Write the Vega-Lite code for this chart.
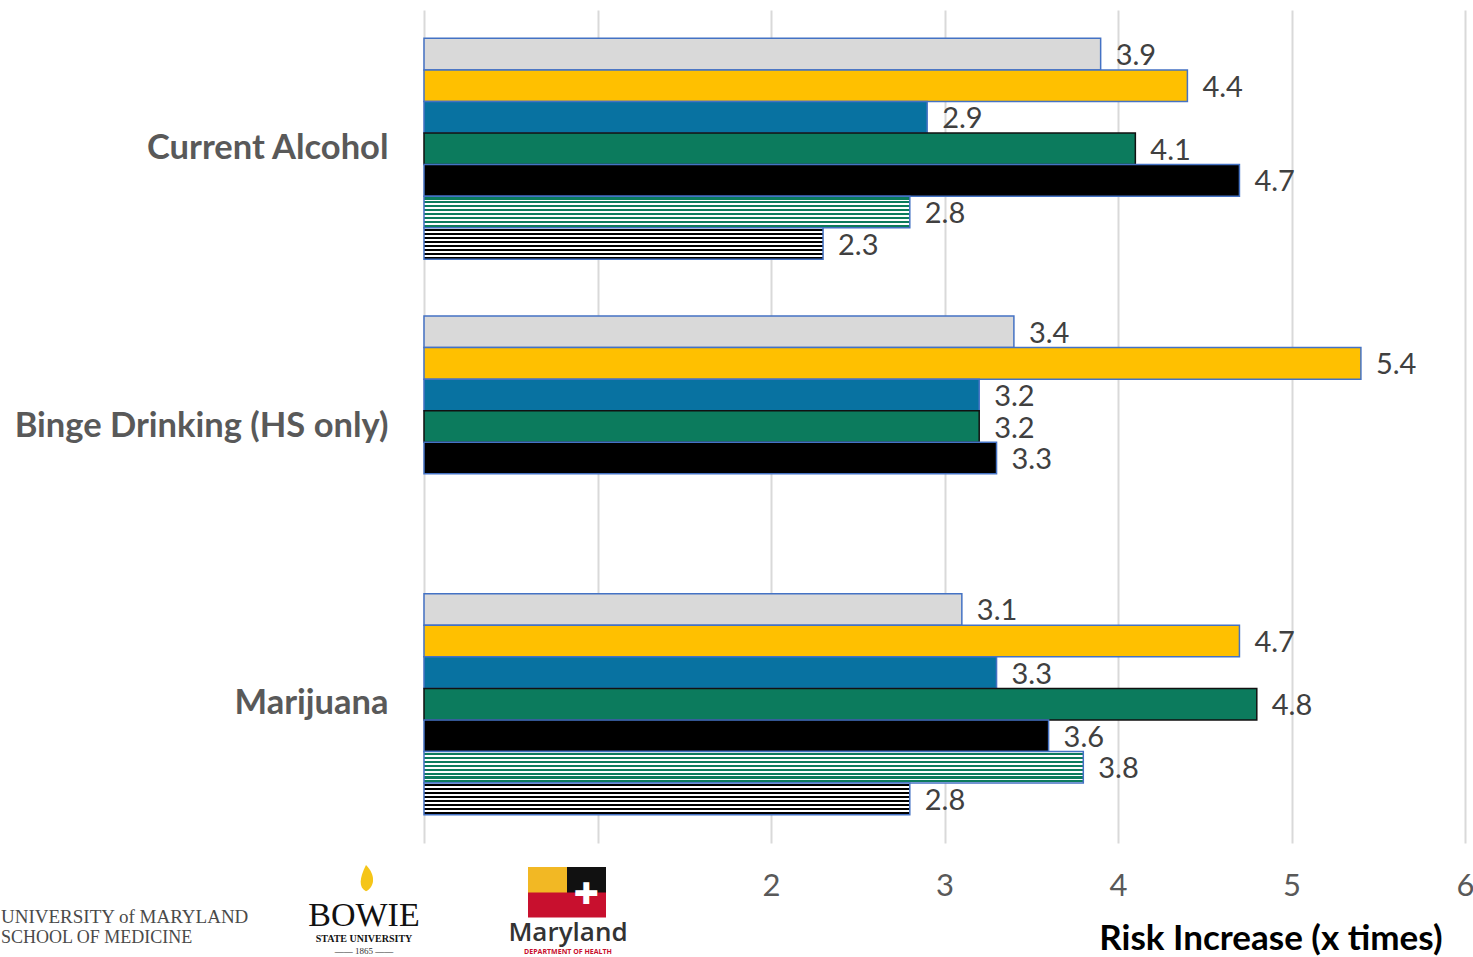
{
  "$schema": "https://vega.github.io/schema/vega-lite/v6.json",
  "width": 1041,
  "height": 833,
  "autosize": {"type": "none"},
  "padding": {"left": 424, "top": 10, "right": 8, "bottom": 114},
  "background": "white",
  "config": {"view": {"stroke": null}, "font": "Lato"},
  "data": {
    "values": [
      {"measure": "Current Alcohol", "group": "g1", "value": 3.9},
      {"measure": "Current Alcohol", "group": "g2", "value": 4.4},
      {"measure": "Current Alcohol", "group": "g3", "value": 2.9},
      {"measure": "Current Alcohol", "group": "g4", "value": 4.1},
      {"measure": "Current Alcohol", "group": "g5", "value": 4.7},
      {"measure": "Current Alcohol", "group": "g6", "value": 2.8},
      {"measure": "Current Alcohol", "group": "g7", "value": 2.3},
      {"measure": "Binge Drinking (HS only)", "group": "g1", "value": 3.4},
      {"measure": "Binge Drinking (HS only)", "group": "g2", "value": 5.4},
      {"measure": "Binge Drinking (HS only)", "group": "g3", "value": 3.2},
      {"measure": "Binge Drinking (HS only)", "group": "g4", "value": 3.2},
      {"measure": "Binge Drinking (HS only)", "group": "g5", "value": 3.3},
      {"measure": "Marijuana", "group": "g1", "value": 3.1},
      {"measure": "Marijuana", "group": "g2", "value": 4.7},
      {"measure": "Marijuana", "group": "g3", "value": 3.3},
      {"measure": "Marijuana", "group": "g4", "value": 4.8},
      {"measure": "Marijuana", "group": "g5", "value": 3.6},
      {"measure": "Marijuana", "group": "g6", "value": 3.8},
      {"measure": "Marijuana", "group": "g7", "value": 2.8}
    ]
  },
  "layer": [
    {
      "encoding": {
        "y": {
          "field": "measure",
          "type": "nominal",
          "sort": ["Current Alcohol", "Binge Drinking (HS only)", "Marijuana"],
          "scale": {"paddingInner": 0.204, "paddingOuter": 0.102},
          "axis": {
            "title": null,
            "ticks": false,
            "domain": false,
            "labelPadding": 36,
            "labelLimit": 0,
            "labelFont": "Lato",
            "labelFontSize": 34.5,
            "labelFontWeight": "bold",
            "labelColor": "#595959"
          }
        },
        "yOffset": {
          "field": "group",
          "type": "nominal",
          "scale": {"domain": ["g1", "g2", "g3", "g4", "g5", "g6", "g7"]}
        },
        "x": {
          "field": "value",
          "type": "quantitative",
          "scale": {"domain": [0, 6], "nice": false},
          "axis": {
            "values": [0, 1, 2, 3, 4, 5, 6],
            "labelExpr": "datum.value >= 2 ? datum.label : ''",
            "labelFlush": false,
            "grid": true,
            "gridColor": "#d9d9d9",
            "gridWidth": 2,
            "ticks": false,
            "domain": false,
            "labelFont": "Lato",
            "labelFontSize": 31,
            "labelColor": "#595959",
            "labelPadding": 28,
            "title": "Risk Increase (x times)",
            "titleFont": "Lato",
            "titleFontSize": 35,
            "titleFontWeight": "bold",
            "titleColor": "#000000",
            "titleAnchor": "end",
            "titleAlign": "right",
            "titleX": 1018,
            "titleY": 106,
            "titleBaseline": "alphabetic"
          }
        }
      },
      "layer": [
        {
          "transform": [{"filter": "indexof(['g1','g2','g3','g4','g5'], datum.group) >= 0"}],
          "mark": {"type": "bar", "strokeWidth": 1.5},
          "encoding": {
            "fill": {
              "field": "group",
              "type": "nominal",
              "scale": {
                "domain": ["g1", "g2", "g3", "g4", "g5"],
                "range": ["#d9d9d9", "#ffc000", "#0872a1", "#0c7b5d", "#000000"]
              },
              "legend": null
            },
            "stroke": {
              "condition": {"test": "datum.group === 'g4'", "value": "#111111"},
              "value": "#4472c4"
            }
          }
        },
        {
          "transform": [{"filter": "datum.group === 'g6'"}],
          "mark": {
            "type": "bar",
            "stroke": "#4472c4",
            "strokeWidth": 1.5,
            "fill": {
              "gradient": "linear",
              "x1": 0, "y1": 0, "x2": 0, "y2": 1,
              "stops": [
                {"offset": 0, "color": "#ffffff"}, {"offset": 0.04, "color": "#ffffff"},
                {"offset": 0.04, "color": "#0c7b5d"}, {"offset": 0.105, "color": "#0c7b5d"},
                {"offset": 0.105, "color": "#ffffff"}, {"offset": 0.165, "color": "#ffffff"},
                {"offset": 0.165, "color": "#0c7b5d"}, {"offset": 0.23, "color": "#0c7b5d"},
                {"offset": 0.23, "color": "#ffffff"}, {"offset": 0.29, "color": "#ffffff"},
                {"offset": 0.29, "color": "#0c7b5d"}, {"offset": 0.355, "color": "#0c7b5d"},
                {"offset": 0.355, "color": "#ffffff"}, {"offset": 0.415, "color": "#ffffff"},
                {"offset": 0.415, "color": "#0c7b5d"}, {"offset": 0.48, "color": "#0c7b5d"},
                {"offset": 0.48, "color": "#ffffff"}, {"offset": 0.54, "color": "#ffffff"},
                {"offset": 0.54, "color": "#0c7b5d"}, {"offset": 0.605, "color": "#0c7b5d"},
                {"offset": 0.605, "color": "#ffffff"}, {"offset": 0.665, "color": "#ffffff"},
                {"offset": 0.665, "color": "#0c7b5d"}, {"offset": 0.73, "color": "#0c7b5d"},
                {"offset": 0.73, "color": "#ffffff"}, {"offset": 0.79, "color": "#ffffff"},
                {"offset": 0.79, "color": "#0c7b5d"}, {"offset": 0.855, "color": "#0c7b5d"},
                {"offset": 0.855, "color": "#ffffff"}, {"offset": 0.915, "color": "#ffffff"},
                {"offset": 0.915, "color": "#0c7b5d"}, {"offset": 0.98, "color": "#0c7b5d"},
                {"offset": 0.98, "color": "#ffffff"}, {"offset": 1, "color": "#ffffff"}
              ]
            }
          }
        },
        {
          "transform": [{"filter": "datum.group === 'g7'"}],
          "mark": {
            "type": "bar",
            "stroke": "#4472c4",
            "strokeWidth": 1.5,
            "fill": {
              "gradient": "linear",
              "x1": 0, "y1": 0, "x2": 0, "y2": 1,
              "stops": [
                {"offset": 0, "color": "#ffffff"}, {"offset": 0.04, "color": "#ffffff"},
                {"offset": 0.04, "color": "#000000"}, {"offset": 0.105, "color": "#000000"},
                {"offset": 0.105, "color": "#ffffff"}, {"offset": 0.165, "color": "#ffffff"},
                {"offset": 0.165, "color": "#000000"}, {"offset": 0.23, "color": "#000000"},
                {"offset": 0.23, "color": "#ffffff"}, {"offset": 0.29, "color": "#ffffff"},
                {"offset": 0.29, "color": "#000000"}, {"offset": 0.355, "color": "#000000"},
                {"offset": 0.355, "color": "#ffffff"}, {"offset": 0.415, "color": "#ffffff"},
                {"offset": 0.415, "color": "#000000"}, {"offset": 0.48, "color": "#000000"},
                {"offset": 0.48, "color": "#ffffff"}, {"offset": 0.54, "color": "#ffffff"},
                {"offset": 0.54, "color": "#000000"}, {"offset": 0.605, "color": "#000000"},
                {"offset": 0.605, "color": "#ffffff"}, {"offset": 0.665, "color": "#ffffff"},
                {"offset": 0.665, "color": "#000000"}, {"offset": 0.73, "color": "#000000"},
                {"offset": 0.73, "color": "#ffffff"}, {"offset": 0.79, "color": "#ffffff"},
                {"offset": 0.79, "color": "#000000"}, {"offset": 0.855, "color": "#000000"},
                {"offset": 0.855, "color": "#ffffff"}, {"offset": 0.915, "color": "#ffffff"},
                {"offset": 0.915, "color": "#000000"}, {"offset": 0.98, "color": "#000000"},
                {"offset": 0.98, "color": "#ffffff"}, {"offset": 1, "color": "#ffffff"}
              ]
            }
          }
        },
        {
          "mark": {
            "type": "text",
            "align": "left",
            "baseline": "middle",
            "dx": 15,
            "dy": 2,
            "font": "Lato",
            "fontSize": 29,
            "color": "#404040"
          },
          "encoding": {
            "text": {"field": "value", "type": "quantitative", "format": ".1f"}
          }
        }
      ]
    },
    {
      "data": {"values": [{}]},
      "mark": {"type": "text", "text": "UNIVERSITY of MARYLAND", "align": "left", "baseline": "middle", "font": "Liberation Serif", "fontSize": 19, "color": "#4a4a4a", "x": {"expr": "-423"}, "y": {"expr": "height + 74"}}
    },
    {
      "data": {"values": [{}]},
      "mark": {"type": "text", "text": "SCHOOL OF MEDICINE", "align": "left", "baseline": "middle", "font": "Liberation Serif", "fontSize": 18, "color": "#4a4a4a", "x": {"expr": "-423"}, "y": {"expr": "height + 95"}}
    },
    {
      "data": {"values": [{}]},
      "mark": {"type": "point", "shape": "M0,-1C0.7,-0.3 0.55,0.5 0,0.75C-0.5,0.5 -0.45,-0.1 0,-1Z", "size": 900, "filled": true, "opacity": 1, "color": "#f5c518", "x": {"expr": "-58"}, "y": {"expr": "height + 37"}}
    },
    {
      "data": {"values": [{}]},
      "mark": {"type": "text", "text": "BOWIE", "align": "center", "baseline": "alphabetic", "font": "Liberation Serif", "fontSize": 34, "color": "#111111", "x": {"expr": "-60"}, "y": {"expr": "height + 83"}}
    },
    {
      "data": {"values": [{}]},
      "mark": {"type": "text", "text": "STATE UNIVERSITY", "align": "center", "baseline": "middle", "font": "Liberation Serif", "fontWeight": "bold", "fontSize": 10, "color": "#111111", "x": {"expr": "-60"}, "y": {"expr": "height + 96"}}
    },
    {
      "data": {"values": [{}]},
      "mark": {"type": "text", "text": "—— 1865 ——", "align": "center", "baseline": "middle", "font": "Liberation Serif", "fontSize": 9, "color": "#333333", "x": {"expr": "-60"}, "y": {"expr": "height + 108"}}
    },
    {
      "data": {"values": [{}]},
      "mark": {"type": "point", "shape": "M-1,-0.667H1V0.667H-1Z", "size": 1521, "filled": true, "opacity": 1, "color": "#f2b824", "x": {"expr": "123.5"}, "y": {"expr": "height + 37"}}
    },
    {
      "data": {"values": [{}]},
      "mark": {"type": "point", "shape": "M-1,-0.667H1V0.667H-1Z", "size": 1521, "filled": true, "opacity": 1, "color": "#111111", "x": {"expr": "162.5"}, "y": {"expr": "height + 37"}}
    },
    {
      "data": {"values": [{}]},
      "mark": {"type": "point", "shape": "M-1,-0.32H1V0.32H-1Z", "size": 6084, "filled": true, "opacity": 1, "color": "#c8102e", "x": {"expr": "143"}, "y": {"expr": "height + 62"}}
    },
    {
      "data": {"values": [{}]},
      "mark": {"type": "text", "text": "✚", "align": "center", "baseline": "middle", "font": "DejaVu Sans", "fontSize": 30, "color": "#ffffff", "x": {"expr": "162"}, "y": {"expr": "height + 52"}}
    },
    {
      "data": {"values": [{}]},
      "mark": {"type": "text", "text": "Maryland", "align": "center", "baseline": "middle", "font": "Open Sans", "fontWeight": 600, "fontSize": 26, "color": "#333333", "x": {"expr": "144"}, "y": {"expr": "height + 90"}}
    },
    {
      "data": {"values": [{}]},
      "mark": {"type": "text", "text": "DEPARTMENT OF HEALTH", "align": "center", "baseline": "middle", "font": "Open Sans", "fontWeight": "bold", "fontSize": 7, "color": "#c8102e", "x": {"expr": "144"}, "y": {"expr": "height + 109"}}
    }
  ]
}
